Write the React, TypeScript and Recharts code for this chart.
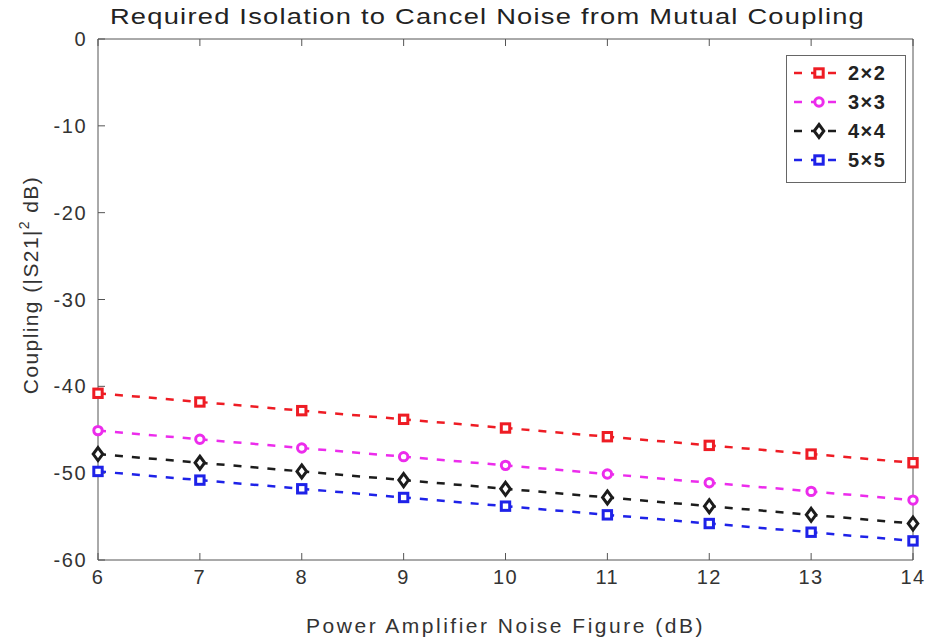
import React from 'react';
import { LineChart, Line, XAxis, YAxis, Legend } from 'recharts';

const noiseFigure = [6, 7, 8, 9, 10, 11, 12, 13, 14];
const coupling2x2 = [-40.8, -41.8, -42.8, -43.8, -44.8, -45.8, -46.8, -47.8, -48.8];
const coupling3x3 = [-45.1, -46.1, -47.1, -48.1, -49.1, -50.1, -51.1, -52.1, -53.1];
const coupling4x4 = [-47.8, -48.8, -49.8, -50.8, -51.8, -52.8, -53.8, -54.8, -55.8];
const coupling5x5 = [-49.8, -50.8, -51.8, -52.8, -53.8, -54.8, -55.8, -56.8, -57.8];
const xTicks = [6, 7, 8, 9, 10, 11, 12, 13, 14];
const yTicks = [0, -10, -20, -30, -40, -50, -60];

const data = noiseFigure.map((nf, i) => ({
  nf,
  a: coupling2x2[i],
  b: coupling3x3[i],
  c: coupling4x4[i],
  d: coupling5x5[i],
}));

const FONT = '"Liberation Sans", Arial, sans-serif';
const TEXT = '#333';
const AXIS = '#555';

type Shape = 'square' | 'circle' | 'diamond';

const series = [
  { key: 'a', name: '2\u00d72', color: '#ee1c24', shape: 'square' as Shape },
  { key: 'b', name: '3\u00d73', color: '#ec2cec', shape: 'circle' as Shape },
  { key: 'c', name: '4\u00d74', color: '#1c1c1c', shape: 'diamond' as Shape },
  { key: 'd', name: '5\u00d75', color: '#1e22e8', shape: 'square' as Shape },
];

const Marker = ({ cx, cy, shape, color }: { cx: number; cy: number; shape: Shape; color: string }) => {
  if (shape === 'circle') {
    return <circle cx={cx} cy={cy} r={4.2} fill="#fff" stroke={color} strokeWidth={3} />;
  }
  if (shape === 'diamond') {
    const pts = `${cx},${cy - 6.5} ${cx + 4.8},${cy} ${cx},${cy + 6.5} ${cx - 4.8},${cy}`;
    return <polygon points={pts} fill="#fff" stroke={color} strokeWidth={3} />;
  }
  return <rect x={cx - 4.2} y={cy - 4.2} width={8.4} height={8.4} fill="#fff" stroke={color} strokeWidth={3} />;
};

const makeDot = (shape: Shape, color: string) => (props: any) => {
  const { cx, cy, index } = props;
  if (cx == null || cy == null) return <g key={index} />;
  return <Marker key={index} cx={cx} cy={cy} shape={shape} color={color} />;
};

const noTick = () => <g />;

const renderLegend = () => (
  <svg width={120} height={128} style={{ display: 'block' }}>
    <rect x={0.5} y={0.5} width={119} height={127} fill="#fff" stroke="#666" strokeWidth={1} />
    {series.map((s, i) => {
      const y = 18 + i * 29;
      return (
        <g key={s.key}>
          <line x1={8} x2={58} y1={y} y2={y} stroke={s.color} strokeWidth={2.5} strokeDasharray="8 9" />
          <Marker cx={33} cy={y} shape={s.shape} color={s.color} />
          <text x={62} y={y + 7} fontFamily={FONT} fontSize={20} fontWeight="bold" fill="#222" letterSpacing={1.5}>
            {s.name}
          </text>
        </g>
      );
    })}
  </svg>
);

const YLabel = () => (
  <text
    transform="translate(38,285) rotate(-90)"
    textAnchor="middle"
    fontFamily={FONT}
    fontSize={21}
    fill={TEXT}
    letterSpacing={1.4}
  >
    Coupling (|S21|
    <tspan dy={-9} fontSize={14}>2</tspan>
    <tspan dy={9}> dB)</tspan>
  </text>
);

export default function App() {
  const tickStyle = { fill: TEXT, fontSize: 20, fontFamily: FONT, letterSpacing: 1.5 };
  return (
    <div style={{ position: 'absolute', left: 0, top: 0, width: 927, height: 638, background: '#fff' }}>
      <div
        style={{
          position: 'absolute',
          left: 0,
          width: 974,
          top: 4,
          textAlign: 'center',
          zIndex: 2,
        }}
      >
        <span
          style={{
            display: 'inline-block',
            fontFamily: FONT,
            fontSize: 22,
            letterSpacing: 1,
            color: '#222',
            transform: 'scaleX(1.24)',
          }}
        >
          Required Isolation to Cancel Noise from Mutual Coupling
        </span>
      </div>
      <LineChart width={927} height={638} data={data} margin={{ top: 29, right: 0, bottom: 0, left: 0 }}>
        <XAxis
          dataKey="nf"
          type="number"
          domain={[6, 14]}
          ticks={xTicks}
          height={78}
          stroke={AXIS}
          tickSize={-7}
          tickMargin={17}
          tick={tickStyle}
          label={{
            value: 'Power Amplifier Noise Figure (dB)',
            position: 'insideBottom',
            offset: 5,
            style: { fill: TEXT, fontSize: 21, fontFamily: FONT, letterSpacing: 2.5 },
          }}
        />
        <XAxis
          xAxisId="top"
          orientation="top"
          dataKey="nf"
          type="number"
          domain={[6, 14]}
          ticks={xTicks}
          height={10}
          stroke={AXIS}
          tickSize={-7}
          tick={noTick}
        />
        <YAxis
          type="number"
          domain={[-60, 0]}
          ticks={yTicks}
          width={98}
          stroke={AXIS}
          tickSize={-7}
          tickMargin={18}
          tick={tickStyle}
          label={<YLabel />}
        />
        <YAxis
          yAxisId="right"
          orientation="right"
          type="number"
          domain={[-60, 0]}
          ticks={yTicks}
          width={14}
          stroke={AXIS}
          tickSize={-7}
          tick={noTick}
        />
        <Legend
          content={renderLegend}
          layout="horizontal"
          verticalAlign="middle"
          align="center"
          wrapperStyle={{ top: 55, left: 786, width: 120, height: 128 }}
        />
        {series.map((s) => (
          <Line
            key={s.key}
            dataKey={s.key}
            name={s.name}
            stroke={s.color}
            strokeWidth={2.5}
            strokeDasharray="8 9"
            dot={makeDot(s.shape, s.color)}
            activeDot={false}
            isAnimationActive={false}
          />
        ))}
      </LineChart>
    </div>
  );
}
